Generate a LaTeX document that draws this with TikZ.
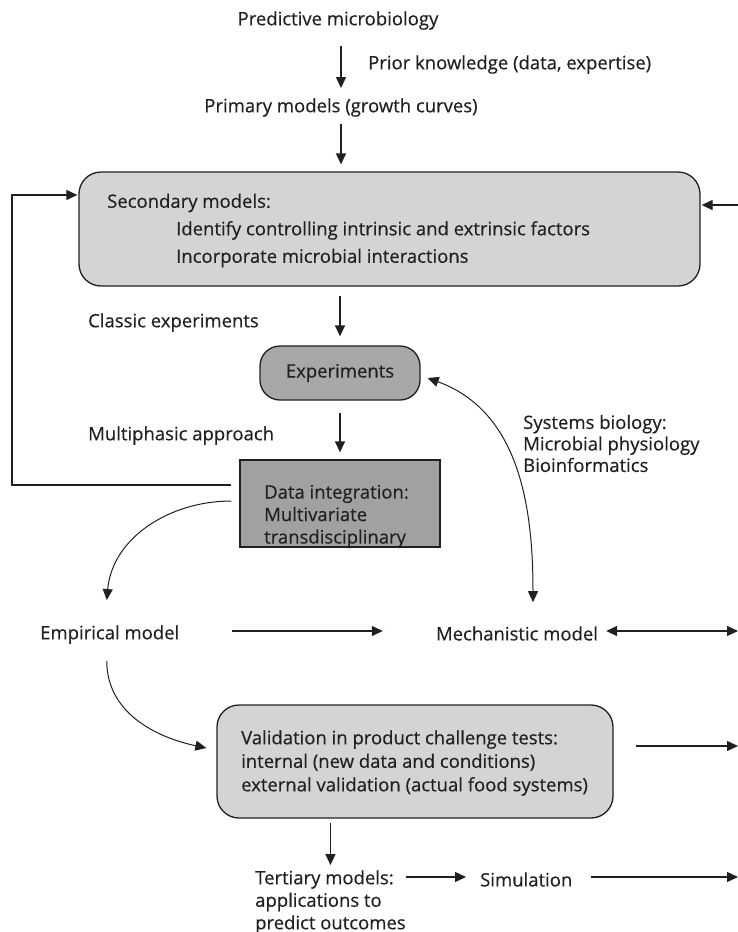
\documentclass[tikz,border=0pt]{standalone}
\usepackage{fontspec}
\setmainfont{Open Sans}[FakeBold=0.35]
\usetikzlibrary{arrows.meta,calc}
\definecolor{ink}{HTML}{231F20}
\definecolor{lgray}{HTML}{D3D4D5}
\definecolor{dgray}{HTML}{A7A8AA}
\definecolor{mgray}{HTML}{A0A1A3}
\begin{document}
\begin{tikzpicture}[x=1pt,y=1pt,
  txt/.style={inner sep=0pt, text=ink, font=\fontsize{18.5}{22.5}\selectfont, align=left, yshift=-2.5pt},
  rbox/.style={draw=ink, line width=1.3pt, rounded corners=22pt, fill=lgray, inner sep=0pt},
  arr/.style={draw=ink, line width=1.3pt, -{Triangle[length=11pt,width=10pt]}},
  darr/.style={draw=ink, line width=1.3pt, {Triangle[length=11pt,width=10pt]}-{Triangle[length=11pt,width=10pt]}},
  curv/.style={line width=1pt}
]
\useasboundingbox (0,0) rectangle (738,-932);

% nodes
\node[txt] (pred) at (338,-18) {Predictive microbiology};
\node[txt,anchor=west] (prior) at (368,-62) {Prior knowledge (data, expertise)};
\node[txt] (prim) at (341,-105) {Primary models (growth curves)};
\node[rbox, minimum width=621pt, minimum height=114pt] (sec) at (389.5,-229) {};
\node[txt, anchor=west, font=\fontsize{18.5}{27.5}\selectfont] (sect) at (107,-228)
  {Secondary models:\\\hspace*{69pt}Identify controlling intrinsic and extrinsic factors\\\hspace*{69pt}Incorporate microbial interactions};
\node[txt,anchor=west] (classic) at (88,-320) {Classic experiments};
\node[rbox, fill=dgray, rounded corners=20pt, minimum width=160pt, minimum height=54pt,
  text=ink, font=\fontsize{18.5}{22.5}\selectfont] (exp) at (340,-373) {\raisebox{-2.5pt}{Experiments}};
\node[txt,anchor=west] (multi) at (88,-433) {Multiphasic approach};
\node[draw=ink, line width=1.3pt, fill=mgray, minimum width=200pt, minimum height=87pt, inner sep=0pt] (data) at (340,-503.5) {};
\node[txt,anchor=west] (datat) at (264,-514) {Data integration:\\Multivariate\\transdisciplinary};
\node[txt,anchor=west, font=\fontsize{18.5}{21.5}\selectfont] (sys) at (523,-441) {Systems biology:\\Microbial physiology\\Bioinformatics};
\node[txt,anchor=west] (emp) at (40,-632) {Empirical model};
\node[txt] (mech) at (517,-631) {Mechanistic model};
\node[rbox, minimum width=396pt, minimum height=113pt] (val) at (415,-761.5) {};
\node[txt,anchor=west, font=\fontsize{18.5}{23.5}\selectfont] (valt) at (241,-760.5)
  {Validation in product challenge tests:\\internal (new data and conditions)\\external validation (actual food systems)};
\node[txt,anchor=west] (tert) at (255,-899.5) {Tertiary models:\\applications to\\predict outcomes};
\node[txt,anchor=west] (sim) at (480,-877) {Simulation};

% free ends
\coordinate (rin) at (738,-205);
\coordinate (lx) at (12,0);
\coordinate (mout) at (738,-631);
\coordinate (vout) at (738,-746);
\coordinate (sout) at (738,-877);
\coordinate (fbA) at ([xshift=-8pt,yshift=18.5pt]data.west);
\coordinate (fbB) at ([yshift=34pt]sec.west);
\coordinate (dA) at ([xshift=-8pt,yshift=2.5pt]data.west);
\coordinate (eA) at ([xshift=-3pt,yshift=25pt]emp.north);
\coordinate (eB) at ([xshift=-3pt,yshift=-17pt]emp.south);
\coordinate (vA) at ([xshift=-10pt,yshift=13.5pt]val.west);
\coordinate (xA) at ([xshift=7pt,yshift=-5pt]exp.east);
\coordinate (xB) at ([xshift=16pt,yshift=24pt]mech.north);
\coordinate (vs) at ([xshift=22pt,yshift=15.5pt]val.east);

% connectors
\draw[arr, shorten <=16pt, shorten >=10pt] (pred.south -| prim.north) -- (prim.north);
\draw[arr, shorten <=7pt, shorten >=7pt] (prim.south) -- (prim.south |- sec.north);
\draw[arr, shorten >=1pt] (rin) -- (rin -| sec.east);
\draw[arr, shorten <=9pt, shorten >=9pt] (exp.north |- sec.south) -- (exp.north);
\draw[arr, shorten <=12pt, shorten >=7pt] (exp.south) -- (exp.south |- data.north);
\draw[arr, line width=1.1pt, shorten >=1pt] (fbA) -- (fbA -| lx) -- (fbB -| lx) -- (fbB);
\draw[arr, curv] (dA) to[out=180,in=85] (eA);
\draw[darr, curv] (xA) to[out=-20,in=90] (xB);
\draw[arr, shorten <=52pt, shorten >=53pt] (emp.east |- mout) -- (mech.west |- mout);
\draw[darr, shorten <=8pt] (mech.east |- mout) -- (mout);
\draw[arr, curv] (eB) to[out=-90,in=168] (vA);
\draw[arr] (vs) -- (vout);
\draw[arr, shorten <=4pt, shorten >=5pt] (val.south -| tert.north) -- (tert.north);
\draw[arr, shorten >=14pt] (tert.east |- sout) -- (sim.west |- sout);
\draw[arr, shorten <=18pt] (sim.east |- sout) -- (sout);
\end{tikzpicture}
\end{document}
